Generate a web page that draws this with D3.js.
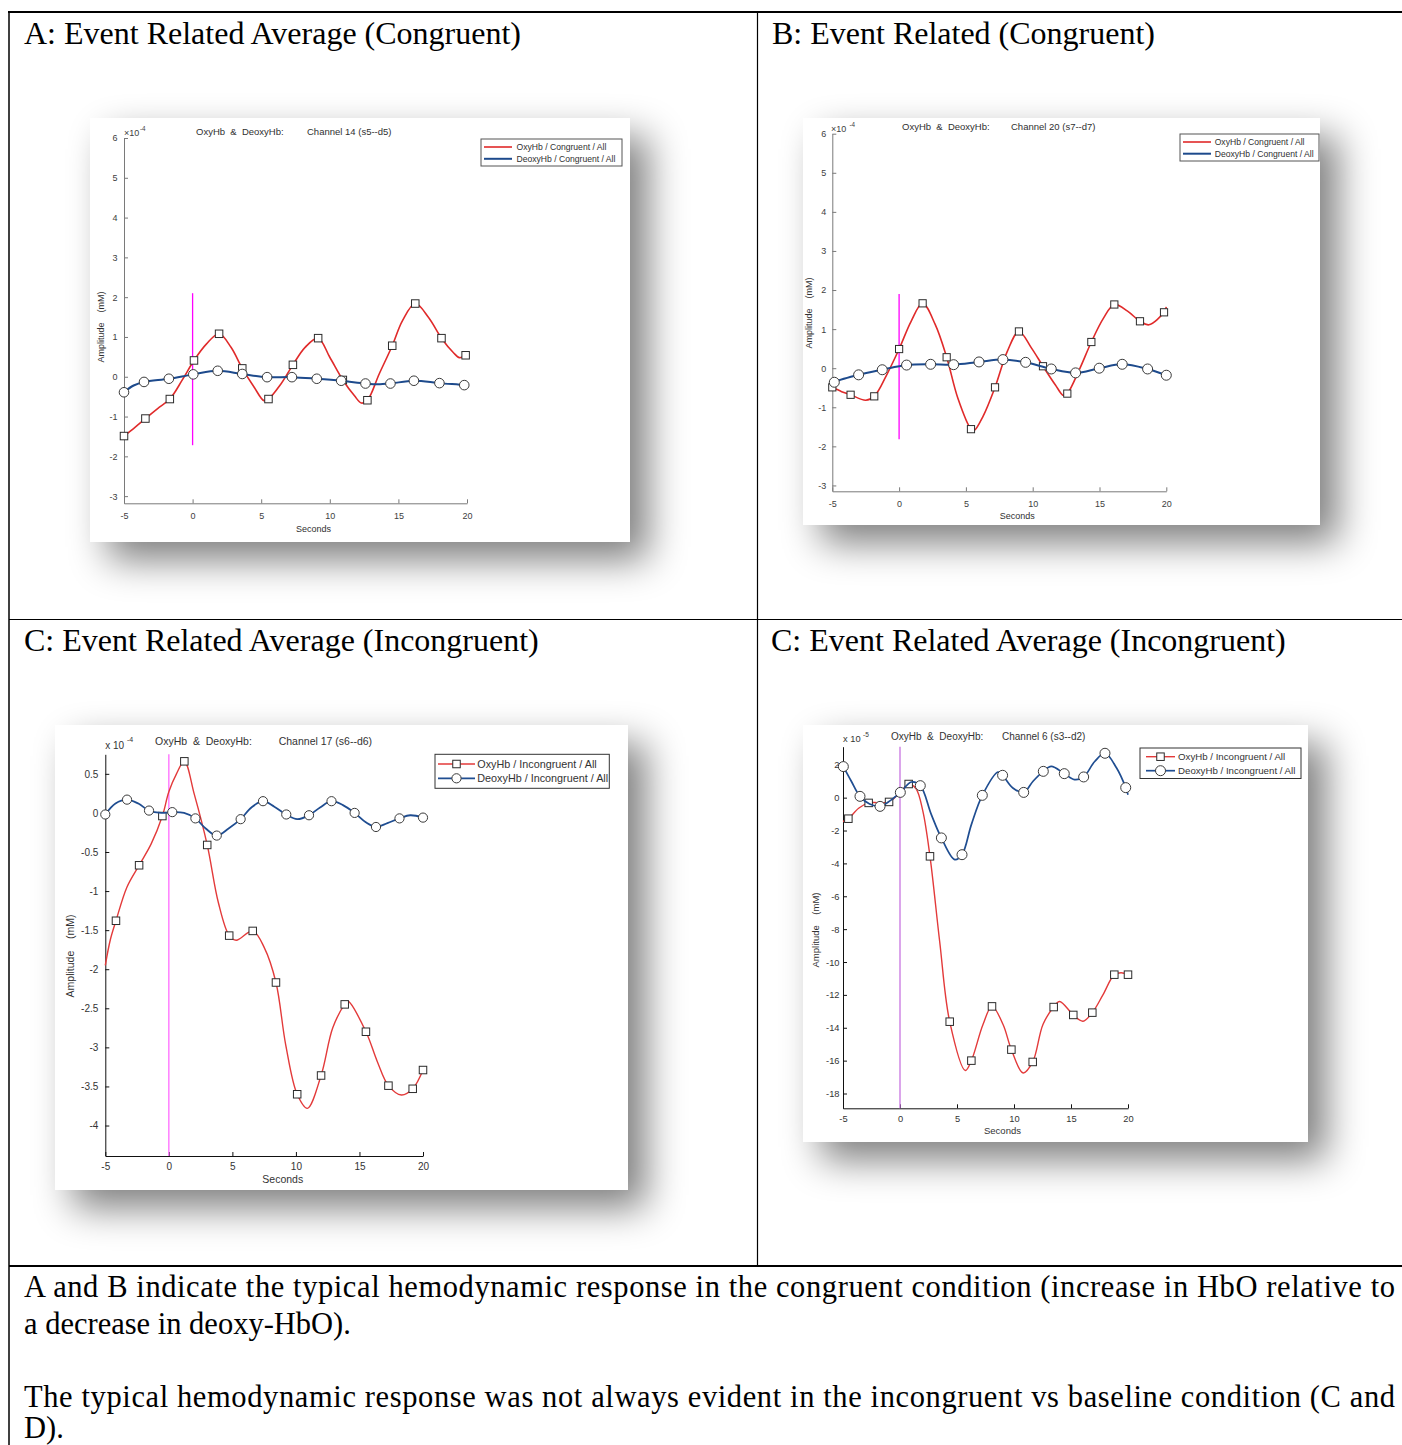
<!DOCTYPE html>
<html>
<head>
<meta charset="utf-8">
<script src="https://cdn.jsdelivr.net/npm/d3@7"></script>
<style>
  html, body { margin: 0; padding: 0; background: #fff; }
  svg { display: block; }
</style>
</head>
<body>
<svg id="page" width="1402" height="1445"></svg>
<script>
// ---------------- data ----------------
const secondsTicks = [-5, 0, 5, 10, 15, 20];
const ticksCongruent = [-3, -2, -1, 0, 1, 2, 3, 4, 5, 6];
const ticksChannel17 = [0.5, 0, -0.5, -1, -1.5, -2, -2.5, -3, -3.5, -4];
const ticksChannel6 = [2, 0, -2, -4, -6, -8, -10, -12, -14, -16, -18];

const legendCongruent = ["OxyHb / Congruent / All", "DeoxyHb / Congruent / All"];
const legendIncongruent = ["OxyHb / Incongruent / All", "DeoxyHb / Incongruent / All"];

const cellHeadings = [
  "A: Event Related Average (Congruent)",
  "B: Event Related (Congruent)",
  "C: Event Related Average (Incongruent)",
  "C: Event Related Average (Incongruent)"
];
const noteLines = [
  "A and B indicate the typical hemodynamic response in the congruent condition (increase in HbO relative to",
  "a decrease in deoxy-HbO).",
  "The typical hemodynamic response was not always evident in the incongruent vs baseline condition (C and",
  "D)."
];

// Channel 14 (s5--d5), congruent. [seconds, amplitude x1e-4]
const aOxyMarks = [[-5,-1.49],[-3.44,-1.05],[-1.66,-0.56],[0.10,0.41],[1.93,1.08],[3.62,0.21],[5.53,-0.56],[7.31,0.30],[9.15,0.97],[10.95,-0.08],[12.74,-0.59],[14.55,0.78],[16.23,1.84],[18.14,0.97],[19.90,0.54]];
const aOxyKnots = [[-4.2,-1.27],[-2.55,-0.80],[-0.75,-0.08],[1.0,0.82],[2.8,0.74],[4.5,-0.27],[5.2,-0.6],[6.4,-0.2],[8.2,0.74],[10.0,0.49],[11.8,-0.48],[12.3,-0.66],[13.6,0.07],[15.3,1.41],[17.2,1.49],[19.0,0.61],[19.45,0.48]];
const aDeoxyMarks = [[-5,-0.39],[-3.54,-0.13],[-1.73,-0.05],[0.05,0.06],[1.83,0.15],[3.62,0.07],[5.43,-0.01],[7.24,-0.01],[9.05,-0.05],[10.83,-0.10],[12.6,-0.17],[14.42,-0.17],[16.13,-0.10],[17.99,-0.16],[19.8,-0.21]];
const aDeoxyKnots = [[-4.3,-0.22],[13.5,-0.19],[20,-0.22]];

// Channel 20 (s7--d7), congruent. [seconds, amplitude x1e-4]
const bOxyMarks = [[-5,-0.49],[-3.63,-0.68],[-1.86,-0.72],[0.0,0.49],[1.76,1.66],[3.56,0.28],[5.38,-1.56],[7.18,-0.49],[8.97,0.94],[10.77,0.05],[12.59,-0.65],[14.39,0.67],[16.11,1.63],[18.03,1.20],[19.83,1.43]];
const bOxyKnots = [[-4.3,-0.6],[-2.5,-0.82],[-0.9,-0.15],[0.9,1.2],[2.7,1.12],[4.4,-0.77],[5.6,-1.6],[6.3,-1.22],[8.1,0.43],[9.9,0.52],[11.7,-0.43],[12.3,-0.7],[13.5,-0.03],[15.3,1.28],[17.1,1.46],[18.7,1.11],[20,1.57]];
const bDeoxyMarks = [[-4.85,-0.36],[-3.03,-0.17],[-1.26,-0.04],[0.56,0.08],[2.36,0.10],[4.08,0.09],[5.98,0.16],[7.77,0.22],[9.47,0.15],[11.39,-0.02],[13.21,-0.12],[14.98,0.0],[16.7,0.10],[18.6,-0.02],[20,-0.18]];
const bDeoxyKnots = [[-5,-0.42]];

// Channel 17 (s6--d6), incongruent. [seconds, amplitude x1e-4]
const cOxyMarks = [[-4.16,-1.38],[-2.34,-0.67],[-0.51,-0.04],[1.22,0.66],[3.02,-0.41],[4.75,-1.57],[6.6,-1.51],[8.43,-2.17],[10.1,-3.60],[11.98,-3.36],[13.84,-2.45],[15.51,-2.80],[17.28,-3.49],[19.19,-3.53],[20,-3.29]];
const cOxyKnots = [[-5,-1.95],[-4.6,-1.62],[-3.3,-0.95],[-1.4,-0.4],[0.0,0.27],[0.6,0.5],[2.0,0.24],[3.9,-1.15],[5.3,-1.63],[7.5,-1.72],[9.2,-2.97],[10.9,-3.78],[12.9,-2.75],[14.1,-2.41],[16.4,-3.18],[18.3,-3.61]];
const cDeoxyMarks = [[-5,-0.02],[-3.29,0.17],[-1.56,0.03],[0.27,0.01],[2.09,-0.07],[3.77,-0.29],[5.65,-0.08],[7.41,0.15],[9.24,-0.02],[11.03,-0.03],[12.8,0.15],[14.62,0.0],[16.3,-0.18],[18.15,-0.07],[20,-0.06]];
const cDeoxyKnots = [[-4.2,0.12],[-2.4,0.12],[-0.6,0.0],[1.2,0.0],[2.9,-0.2],[4.7,-0.2],[6.5,0.07],[8.3,0.08],[10.1,-0.08],[11.9,0.07],[13.7,0.1],[15.5,-0.12],[17.2,-0.13],[19.0,-0.03]];

// Channel 6 (s3--d2), incongruent. [seconds, amplitude x1e-5]
const dOxyMarks = [[-4.53,-1.28],[-2.75,-0.32],[-0.96,-0.26],[0.76,0.83],[2.63,-3.57],[4.36,-13.63],[6.26,-16.0],[8.07,-12.7],[9.77,-15.33],[11.64,-16.08],[13.48,-12.74],[15.2,-13.22],[16.87,-13.08],[18.8,-10.77],[20,-10.77]];
const dOxyKnots = [[-5,-1.45],[-3.6,-0.63],[-1.9,-0.3],[0.0,0.3],[1.4,0.55],[2.0,-0.8],[3.48,-8.75],[5.73,-16.6],[7.28,-13.8],[9.04,-13.8],[10.8,-16.75],[12.54,-13.8],[14.0,-12.4],[16.05,-13.6],[17.8,-12.0],[19.4,-10.65]];
const dDeoxyMarks = [[-4.97,1.89],[-3.51,0.08],[-1.75,-0.53],[0.03,0.32],[1.78,0.73],[3.63,-2.45],[5.44,-3.47],[7.22,0.14],[9.0,1.36],[10.85,0.32],[12.57,1.6],[14.41,1.46],[16.11,1.26],[17.98,2.7],[19.8,0.61]];
const dDeoxyKnots = [[-4.27,1.0],[-2.66,-0.39],[-0.85,-0.18],[1.0,0.95],[2.75,-1.03],[4.8,-3.77],[6.26,-1.64],[8.6,1.56],[9.9,0.59],[11.67,1.0],[13.27,1.9],[15.3,1.1],[17.08,2.2],[19.0,1.8],[20,0.18]];

// ---------------- drawing ----------------
const SANS = "'Liberation Sans', Arial, Helvetica, sans-serif";
const SERIF = "'Liberation Serif', 'Times New Roman', serif";
const svg = d3.select("#page");

svg.append("defs").append("filter")
  .attr("id", "soft").attr("x", "-30%").attr("y", "-30%")
  .attr("width", "160%").attr("height", "160%")
  .append("feGaussianBlur").attr("stdDeviation", 19);

// table grid
const grid = svg.append("g").attr("stroke", "#000").attr("fill", "none");
grid.append("line").attr("x1", 8).attr("x2", 1402).attr("y1", 12).attr("y2", 12).attr("stroke-width", 2);
grid.append("line").attr("x1", 9).attr("x2", 9).attr("y1", 11).attr("y2", 1445).attr("stroke-width", 1.5);
grid.append("line").attr("x1", 757.5).attr("x2", 757.5).attr("y1", 12).attr("y2", 1266).attr("stroke-width", 1.2);
grid.append("line").attr("x1", 9).attr("x2", 1402).attr("y1", 619.5).attr("y2", 619.5).attr("stroke-width", 1.2);
grid.append("line").attr("x1", 9).attr("x2", 1402).attr("y1", 1266).attr("y2", 1266).attr("stroke-width", 2);

// cell headings
const headingPos = [[24, 44], [772, 44], [24, 651], [771, 651]];
cellHeadings.forEach((t, i) => {
  svg.append("text").attr("x", headingPos[i][0]).attr("y", headingPos[i][1])
    .attr("font-family", SERIF).attr("font-size", 32).attr("fill", "#000").text(t);
});

// note below the grid
const noteBase = [1297, 1334, 1407, 1438];
noteLines.forEach((t, i) => {
  const tx = svg.append("text").attr("x", 24).attr("y", noteBase[i])
    .attr("font-family", SERIF).attr("font-size", 30.5).attr("fill", "#000").text(t);
  if (i === 0 || i === 2) tx.attr("textLength", 1371).attr("lengthAdjust", "spacing");
});

function joinPoints(marks, knots) {
  return marks.concat(knots).sort((a, b) => a[0] - b[0]);
}

function addMarker(g, kind, cx, cy, p) {
  if (kind === "square") {
    g.append("rect").attr("x", cx - p.sq / 2).attr("y", cy - p.sq / 2)
      .attr("width", p.sq).attr("height", p.sq)
      .attr("fill", "#fff").attr("stroke", "#2b2b2b").attr("stroke-width", 1);
  } else {
    g.append("circle").attr("cx", cx).attr("cy", cy).attr("r", p.r)
      .attr("fill", "#fff").attr("stroke", "#3a3a3a").attr("stroke-width", 1);
  }
}

function drawPanel(p) {
  const g = svg.append("g");
  const [bx, by, bw, bh] = p.box;
  g.append("rect").attr("x", bx + 18).attr("y", by + 18).attr("width", bw).attr("height", bh)
    .attr("fill", "#000").attr("opacity", 0.5).attr("filter", "url(#soft)");
  g.append("rect").attr("x", bx).attr("y", by).attr("width", bw).attr("height", bh).attr("fill", "#fff");

  const x = d3.scaleLinear().domain([-5, 20]).range(p.xRange);
  const y = d3.scaleLinear().domain(p.yDomain).range(p.yRange);

  const styleAxis = sel => {
    sel.attr("font-family", SANS).attr("font-size", p.tickFont);
    sel.select("path.domain").attr("stroke", p.axisColor).attr("stroke-width", 1);
    sel.selectAll(".tick line").attr("stroke", p.axisColor);
    sel.selectAll(".tick text").attr("fill", p.labelColor);
  };

  g.append("g").attr("transform", `translate(0,${p.yRange[0]})`)
    .call(d3.axisBottom(x).tickValues(secondsTicks).tickFormat(d => String(d))
      .tickSize(-4).tickSizeOuter(0).tickPadding(p.xPad))
    .call(styleAxis);
  g.append("g").attr("transform", `translate(${p.xRange[0]},0)`)
    .call(d3.axisLeft(y).tickValues(p.yTicks).tickFormat(d => String(d))
      .tickSize(-4).tickSizeOuter(0).tickPadding(p.yPad))
    .call(styleAxis);

  // stimulus onset
  const onset = p.onsetSpan ? p.onsetSpan.map(y) : [p.yRange[0], p.yRange[1]];
  g.append("line").attr("x1", x(0)).attr("x2", x(0)).attr("y1", onset[0]).attr("y2", onset[1])
    .attr("stroke", p.onsetColor).attr("stroke-width", 1.3);

  const line = d3.line().x(d => x(d[0])).y(d => y(d[1])).curve(d3.curveCatmullRom.alpha(0.5));

  p.series.forEach(s => {
    g.append("path").datum(joinPoints(s.marks, s.knots)).attr("d", line)
      .attr("fill", "none").attr("stroke", s.color).attr("stroke-width", s.width);
    const mg = g.append("g");
    s.marks.forEach(d => addMarker(mg, s.marker, x(d[0]), y(d[1]), p));
  });

  // headers inside the figure
  const txt = (tx, ty, t, size, anchor, fill) => g.append("text").attr("x", tx).attr("y", ty).attr("dy", "0.35em")
    .attr("font-family", SANS).attr("font-size", size).attr("text-anchor", anchor || "start")
    .attr("fill", fill || p.textColor).attr("xml:space", "preserve").text(t);

  txt(p.title[0], p.title[2], "OxyHb  &  DeoxyHb:", p.titleFont);
  txt(p.title[1], p.title[2], p.channel, p.titleFont);
  txt(p.exp[0], p.exp[1], p.expBase, p.tickFont, "start", p.labelColor);
  txt(p.exp[2], p.exp[3], p.expPow, p.tickFont * 0.7, "start", p.labelColor);
  txt(p.seconds[0], p.seconds[1], "Seconds", p.labelFont);
  g.append("text").attr("transform", `translate(${p.amp[0]},${p.amp[1]}) rotate(-90)`).attr("dy", "0.35em")
    .attr("font-family", SANS).attr("font-size", p.labelFont).attr("text-anchor", "middle")
    .attr("fill", p.textColor).attr("xml:space", "preserve").text("Amplitude    (mM)");

  // legend
  const L = p.legend;
  g.append("rect").attr("x", L.x).attr("y", L.y).attr("width", L.w).attr("height", L.h)
    .attr("fill", "#fff").attr("stroke", L.stroke).attr("stroke-width", 1);
  p.series.forEach((s, i) => {
    const cy = L.rows[i];
    g.append("line").attr("x1", L.lx[0]).attr("x2", L.lx[1]).attr("y1", cy).attr("y2", cy)
      .attr("stroke", s.color).attr("stroke-width", s.width);
    if (L.markers) addMarker(g, s.marker, (L.lx[0] + L.lx[1]) / 2, cy, p);
    txt(L.tx, cy, p.legendLabels[i], L.font);
  });
}

const RED = "#e02a2a", NAVY = "#1d4a8c";

const panels = [
  { // A
    box: [90, 118, 540, 424], xRange: [124, 467], yDomain: [-3.18, 6], yRange: [503.3, 138],
    yTicks: ticksCongruent, tickFont: 9, labelFont: 9, titleFont: 9.5, xPad: 9.3, yPad: 6.5,
    axisColor: "#7a7a7a", labelColor: "#404040", textColor: "#303030",
    onsetSpan: [2.1, -1.72], onsetColor: "#ff00ff", sq: 7.5, r: 4.8,
    title: [196, 307, 132], channel: "Channel 14 (s5--d5)",
    expBase: "×10", expPow: "-4", exp: [124, 133, 140, 129],
    seconds: [296, 529], amp: [101, 327],
    legendLabels: legendCongruent,
    legend: { x: 481, y: 139, w: 141, h: 27, stroke: "#555", lx: [484, 512], tx: 516.5, rows: [147, 158.8], font: 8.6, markers: false },
    series: [
      { marks: aOxyMarks, knots: aOxyKnots, color: RED, width: 1.6, marker: "square" },
      { marks: aDeoxyMarks, knots: aDeoxyKnots, color: NAVY, width: 2, marker: "circle" }
    ]
  },
  { // B
    box: [803, 118, 517, 407], xRange: [832.3, 1166.3], yDomain: [-3.15, 6], yRange: [491.3, 133.7],
    yTicks: ticksCongruent, tickFont: 9, labelFont: 9, titleFont: 9.5, xPad: 9.3, yPad: 6,
    axisColor: "#7a7a7a", labelColor: "#404040", textColor: "#303030",
    onsetSpan: [1.9, -1.82], onsetColor: "#ff00ff", sq: 7.2, r: 5,
    title: [902, 1011, 127], channel: "Channel 20 (s7--d7)",
    expBase: "×10", expPow: "-4", exp: [831, 129, 849.5, 124.5],
    seconds: [999.7, 516.3], amp: [809, 313],
    legendLabels: legendCongruent,
    legend: { x: 1180, y: 134, w: 139, h: 27, stroke: "#555", lx: [1183, 1211], tx: 1214.7, rows: [142, 153.7], font: 8.6, markers: false },
    series: [
      { marks: bOxyMarks, knots: bOxyKnots, color: RED, width: 1.6, marker: "square" },
      { marks: bDeoxyMarks, knots: bDeoxyKnots, color: NAVY, width: 2, marker: "circle" }
    ]
  },
  { // C
    box: [55, 725, 573, 465], xRange: [105.3, 423], yDomain: [-4.39, 0.75], yRange: [1156, 754.3],
    yTicks: ticksChannel17, tickFont: 10, labelFont: 10.5, titleFont: 10.5, xPad: 6.5, yPad: 7,
    axisColor: "#111", labelColor: "#333", textColor: "#333",
    onsetSpan: null, onsetColor: "#ff6bff", sq: 7.5, r: 4.6,
    title: [155, 278.7, 741.7], channel: "Channel 17 (s6--d6)",
    expBase: "x 10", expPow: "-4", exp: [105.2, 745, 126.9, 739.5],
    seconds: [262.3, 1179.3], amp: [70.4, 956],
    legendLabels: legendIncongruent,
    legend: { x: 435, y: 754.3, w: 174.3, h: 34, stroke: "#333", lx: [438, 475], tx: 477.3, rows: [764, 778.3], font: 10.8, markers: true },
    series: [
      { marks: cOxyMarks, knots: cOxyKnots, color: "#e33a3a", width: 1.4, marker: "square" },
      { marks: cDeoxyMarks, knots: cDeoxyKnots, color: "#1f4d91", width: 1.8, marker: "circle" }
    ]
  },
  { // D
    box: [803, 725, 505, 417], xRange: [843, 1128], yDomain: [-18.9, 3.1], yRange: [1108.3, 746.7],
    yTicks: ticksChannel6, tickFont: 9.3, labelFont: 9.5, titleFont: 10, xPad: 7.4, yPad: 3.5,
    axisColor: "#111", labelColor: "#333", textColor: "#333",
    onsetSpan: null, onsetColor: "#c874e0", sq: 7.5, r: 5,
    title: [891, 1002, 736.7], channel: "Channel 6 (s3--d2)",
    expBase: "x 10", expPow: "-5", exp: [843, 739, 863, 735],
    seconds: [984, 1131], amp: [815.7, 930],
    legendLabels: legendIncongruent,
    legend: { x: 1140, y: 748, w: 161, h: 30.5, stroke: "#333", lx: [1146, 1175], tx: 1178, rows: [756.7, 770.7], font: 9.7, markers: true },
    series: [
      { marks: dOxyMarks, knots: dOxyKnots, color: "#e33a3a", width: 1.4, marker: "square" },
      { marks: dDeoxyMarks, knots: dDeoxyKnots, color: "#1f4d91", width: 1.7, marker: "circle" }
    ]
  }
];

panels.forEach(drawPanel);
</script>
</body>
</html>
